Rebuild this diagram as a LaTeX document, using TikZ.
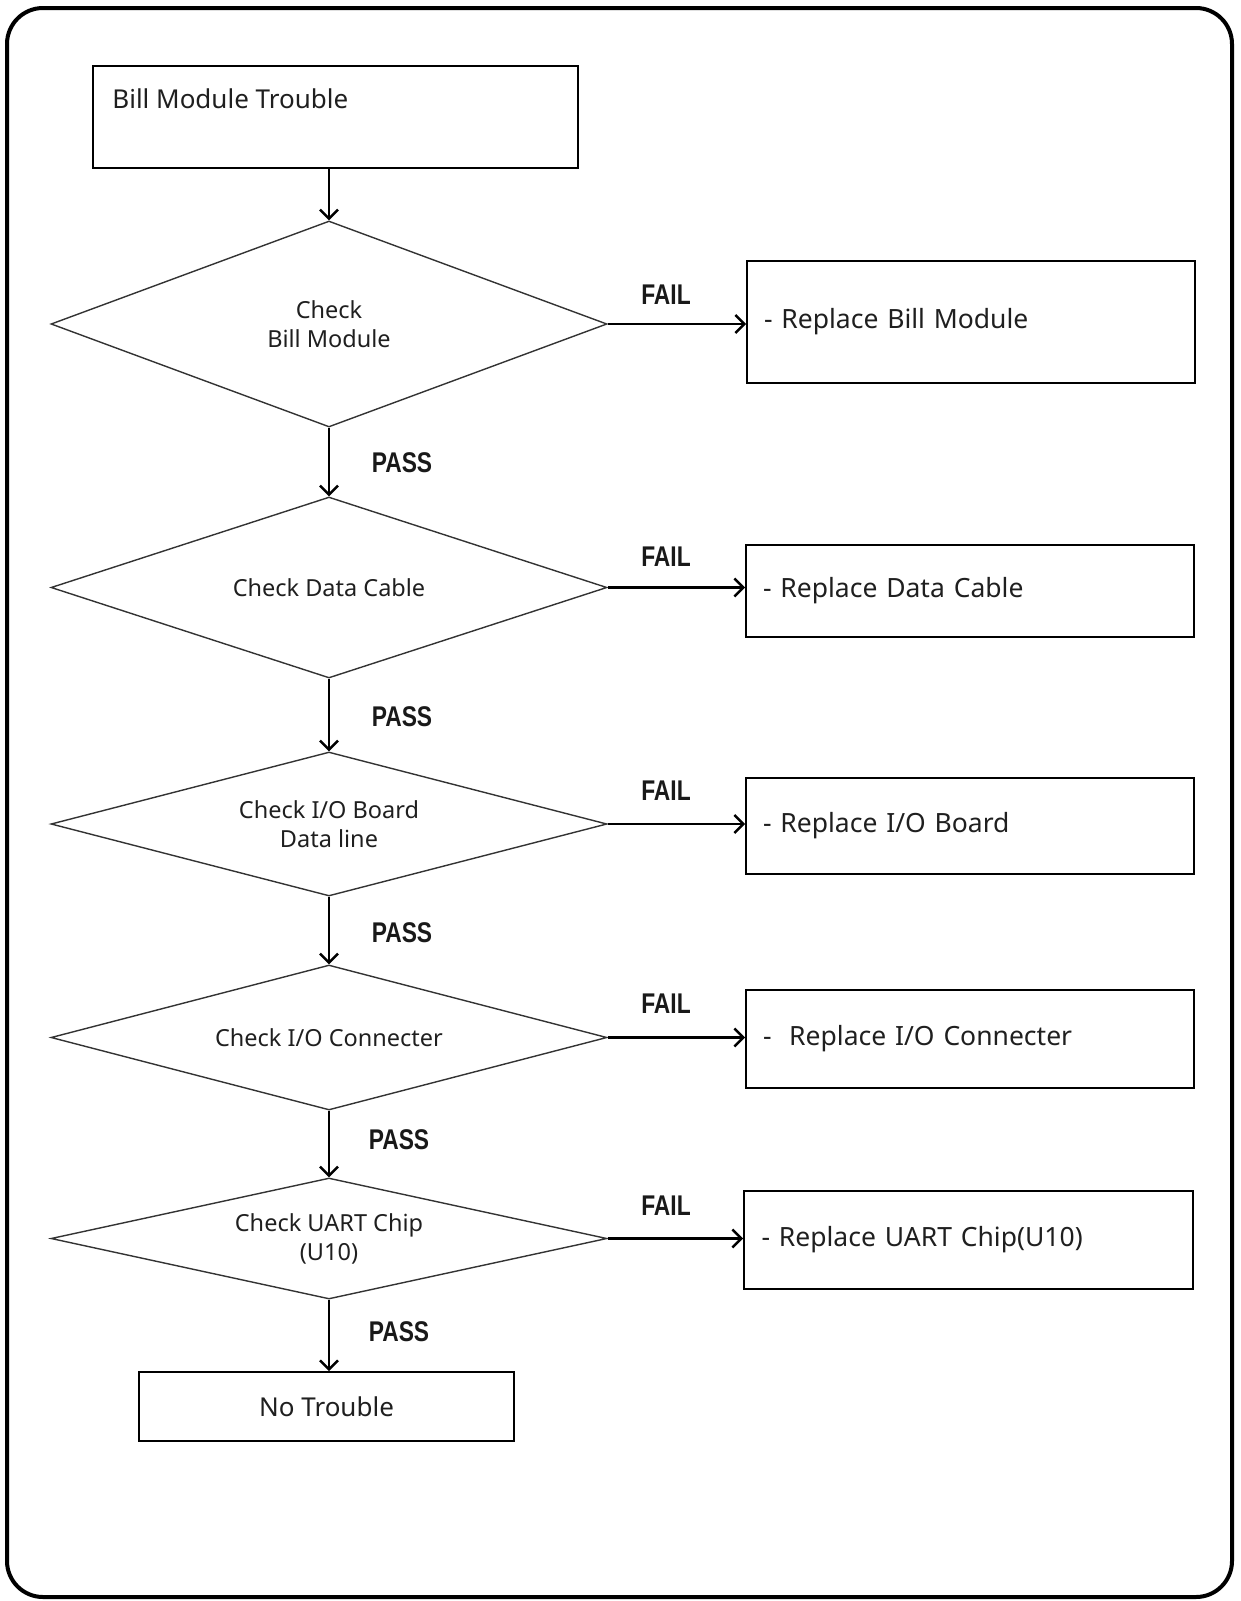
\documentclass[tikz,border=0pt]{standalone}
\usepackage{fontspec}
\usepackage{graphicx}
\setmainfont{Noto Sans}
\newfontfamily\verdictfont{Liberation Sans}
\usetikzlibrary{shapes.geometric,arrows.meta}
\newcommand{\narrowlabel}[1]{\scalebox{0.8}[1]{\verdictfont\bfseries #1}}
\begin{document}
\begin{tikzpicture}[x=1pt,y=-1pt,
  procbox/.style={draw=black, line width=1.6pt, rectangle, minimum width=448pt,
    inner xsep=17pt, text width=414pt, align=left,
    font=\fontsize{26.5}{32}\selectfont, text=black!88},
  decision/.style={draw=black!80, line width=1.4pt, diamond, minimum width=556pt,
    inner sep=0pt, aspect=5, align=center,
    font=\fontsize{23.5}{29}\selectfont, text=black!88},
  flow/.style={line width=2.5pt, -{Straight Barb[length=9pt,width=18pt]}},
  verdict/.style={font=\fontsize{28.5}{30}\selectfont, text=black!90},
]
\useasboundingbox (0,0) rectangle (1240,1601);
% outer frame
\draw[line width=4pt, rounded corners=36pt] (7,8) rectangle (1232,1597);

% start box
\node[draw=black, line width=1.6pt, rectangle, minimum width=485pt, minimum height=102pt]
  (start) at (335.5,117) {};
\node[anchor=west, font=\fontsize{26}{32}\selectfont, text=black!88, inner sep=0pt]
  (starttxt) at ([xshift=20pt,yshift=-34pt]start.north west) {Bill Module Trouble};

% decisions
\node[decision, minimum height=206pt] (d1) at (329,324)    {Check\\Bill Module};
\node[decision, minimum height=181pt] (d2) at (329,587.5)  {Check Data Cable};
\node[decision, minimum height=144pt] (d3) at (329,824)    {Check I/O Board\\Data line};
\node[decision, minimum height=145pt] (d4) at (329,1037.5) {Check I/O Connecter};
\node[decision, minimum height=121pt] (d5) at (329,1238.5) {Check UART Chip\\(U10)};

% remedies
\node[procbox, minimum height=122pt] (r1) at (971,322)    {- Replace Bill Module};
\node[procbox, minimum height=92pt]  (r2) at (970,591)    {- Replace Data Cable};
\node[procbox, minimum height=96pt]  (r3) at (970,826)    {- Replace I/O Board};
\node[procbox, minimum height=98pt]  (r4) at (970,1039)   {-\ \ Replace I/O Connecter};
\node[procbox, minimum height=98pt, minimum width=449pt] (r5) at (968.5,1240) {- Replace UART Chip(U10)};

% end box
\node[draw=black, line width=1.6pt, rectangle, minimum width=375pt, minimum height=69pt,
  font=\fontsize{26}{32}\selectfont, text=black!88] (done) at (326.5,1406.5) {No Trouble};

% main flow
\draw[flow] (start.south -| d1.north) -- (d1.north);
\draw[flow] (d1.south) -- (d2.north);
\draw[flow] (d2.south) -- (d3.north);
\draw[flow] (d3.south) -- (d4.north);
\draw[flow] (d4.south) -- (d5.north);
\draw[flow] (d5.south) -- (d5.south |- done.north);

% failure branches
\draw[flow] (d1.east) -- (d1.east -| r1.west);
\draw[flow] (d2.east) -- (d2.east -| r2.west);
\draw[flow] (d3.east) -- (d3.east -| r3.west);
\draw[flow] (d4.east) -- (d4.east -| r4.west);
\draw[flow] (d5.east) -- (d5.east -| r5.west);

% branch labels
\node[verdict] (f1) at (666,295)  {\narrowlabel{FAIL}};
\node[verdict] (f2) at (666,557)  {\narrowlabel{FAIL}};
\node[verdict] (f3) at (666,791)  {\narrowlabel{FAIL}};
\node[verdict] (f4) at (666,1004) {\narrowlabel{FAIL}};
\node[verdict] (f5) at (666,1206) {\narrowlabel{FAIL}};
\node[verdict] (p1) at (402,463)  {\narrowlabel{PASS}};
\node[verdict] (p2) at (402,717)  {\narrowlabel{PASS}};
\node[verdict] (p3) at (402,933)  {\narrowlabel{PASS}};
\node[verdict] (p4) at (399,1140) {\narrowlabel{PASS}};
\node[verdict] (p5) at (399,1332) {\narrowlabel{PASS}};
\end{tikzpicture}
\end{document}
